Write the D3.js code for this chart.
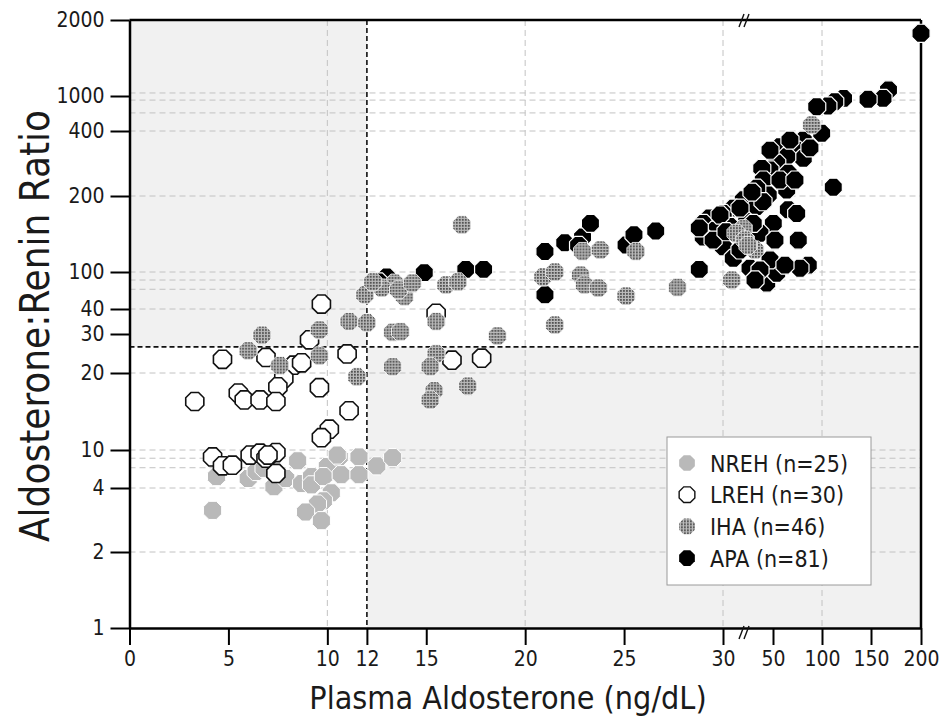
<html>

<head>
  <meta charset="utf8">
  <title>Aldosterone:Renin Ratio vs Plasma Aldosterone</title>
  <style>
    * {
      margin: 0;
      padding: 0;
    }
    body {
      background: #fff;
    }
    text {
      font-family: 'DejaVu Sans Condensed', 'DejaVu Sans', sans-serif;
      fill: #1a1a1a;
    }
  </style>
</head>

<body>
  <script src="https://cdn.jsdelivr.net/npm/d3@7"></script>
  <script>
    var w = 941
    var h = 722

    // axis stops / labels
    var xTicks = [0, 5, 10, 12, 15, 20, 25, 30, 50, 100, 150, 200]
    var xBreaks = [0, 30, 50, 100, 150, 200]
    var yTicks = [1, 2, 4, 10, 20, 30, 40, 100, 200, 400, 1000, 2000]
    var xGrid = [10, 20, 30, 100]
    var yGrid = [2, 4, 7.2, 8.7, 10, 20, 40, 72, 87, 100, 200, 400, 710, 930, 1040]
    var cutX = 12
    var cutY = 26.7

    // NREH
    var nrehX = [4.4, 4.2, 6.0, 6.4, 6.8, 7.3, 7.9, 8.5, 8.7, 9.2, 9.2, 10.0, 9.8, 10.6, 10.7, 11.6, 11.6, 12.5, 13.3, 10.2, 9.8, 9.5, 8.9, 9.7, 10.5]
    var nrehY = [5.8, 3.3, 5.5, 6.6, 7.1, 4.2, 5.5, 8.3, 4.7, 5.8, 4.5, 7.4, 5.8, 8.9, 6.1, 8.9, 6.1, 7.5, 8.8, 3.85, 3.6, 3.5, 3.25, 2.98, 9.2]

    // LREH
    var lrehX = [9.7, 15.5, 4.7, 6.9, 9.1, 11.0, 16.3, 17.8, 8.3, 8.7, 7.8, 7.5, 9.6, 5.5, 5.8, 6.6, 7.4, 3.3, 11.1, 10.1, 9.7, 4.2, 4.7, 5.2, 6.1, 6.6, 6.9, 7.4, 7.4, 7.0]
    var lrehY = [48, 38.3, 23.5, 24, 28.5, 24.9, 23.3, 23.8, 22.0, 22.6, 19.3, 18.2, 18.1, 17.4, 16.5, 16.5, 16.3, 16.3, 15.1, 12.7, 11.6, 8.9, 7.5, 7.6, 9.2, 9.5, 8.7, 9.6, 6.3, 9.2]

    // IHA
    var ihaX = [16.8, 13.4, 12.75, 13.9, 11.9, 16.0, 16.6, 11.1, 12.0, 13.3, 13.7, 15.5, 18.6, 9.6, 6.7, 6.0, 7.6, 9.6, 11.5, 13.3, 15.5, 15.2, 15.4, 15.2, 17.1, 20.9, 21.5, 22.8, 23.0, 23.7, 22.9, 23.8, 25.6, 25.1, 21.5, 27.7, 33.5, 38.1, 35.2, 42.8, 89.5, 13.6, 14.3, 12.3, 38.8, 40]
    var ihaY = [162, 82, 74, 60, 63, 79, 84, 35, 34.5, 30.7, 30.9, 35, 29.5, 31.6, 29.7, 25.7, 21.9, 24.4, 19.5, 21.6, 24.9, 21.6, 17.7, 16.5, 18.3, 92, 100, 95, 79, 74, 127, 129, 127, 61, 33.6, 75, 87, 157, 151, 129, 503, 71, 82, 84, 142, 135]

    // APA
    var apaX = [200, 167.5, 162, 147, 122, 113, 106, 94.6, 99.7, 111.5, 13.0, 14.9, 17.0, 17.9, 21.0, 22.0, 22.9, 23.3, 25.1, 25.5,
      26.6, 21.0, 28.8, 12.6, 22.7, 80.9, 74.2, 80.9, 57.1, 64, 53.8, 48.8, 45.5, 65.6, 46.1, 64, 48.1, 43.5, 38.1, 34.1,
      30.1, 29.3, 29.0, 29.6, 29.0, 30.1, 34.1, 40.8, 47.5, 53.8, 48.8, 50.3, 65.6, 74.2, 75.8, 86, 77.5, 39.5, 44.8, 32.8,
      39.5, 43.5, 46, 67.3, 87.7, 42.1, 38.8, 29.85, 29.5, 36.8, 44.8, 42.8, 57.1, 72.4, 48.8, 36.8, 31.2, 28.8, 52, 62.2, 41.6]
    var apaY = [1825, 1080, 960, 943, 960, 902, 829, 817, 393, 227, 92, 99, 103.5, 103.5, 127, 138.5, 146, 164, 135.5, 149,
      154, 63, 103.5, 84, 135, 372, 341, 316, 352, 321, 301, 280, 285, 270, 249, 218.5, 203, 224, 195, 184,
      177, 171, 164, 155, 146, 133, 118, 105, 82, 98, 116, 164, 182, 177, 142, 109, 105, 151, 151, 160,
      173, 186, 192.5, 372, 348, 164, 142, 175, 142, 129, 102.6, 87, 249, 249, 341, 184, 153, 158, 142, 109, 212]

    var legendLabels = ['NREH (n=25)', 'LREH (n=30)', 'IHA (n=46)', 'APA (n=81)']

    var xScale = d3.scaleLinear().domain(xBreaks).range([129.5, 723, 773, 822, 871, 921])
    var yScale = d3.scaleLinear().domain(yTicks).range([628, 552, 488, 450, 373, 334, 309, 272, 196, 131, 96, 20])

    var svg = d3.select('body').append('svg').attr('width', w).attr('height', h)

    // dotted fill for IHA
    var pat = svg.append('defs').append('pattern')
      .attr('id', 'dots')
      .attr('patternUnits', 'userSpaceOnUse')
      .attr('width', 3)
      .attr('height', 3)
    pat.append('rect').attr('width', 3).attr('height', 3).attr('fill', '#bcbcbc')
    pat.append('rect').attr('width', 1.8).attr('height', 1.8).attr('fill', '#4e4e4e')

    // shaded quadrants
    svg.append('rect')
      .attr('x', xScale(0))
      .attr('y', yScale(2000))
      .attr('width', xScale(cutX) - xScale(0))
      .attr('height', yScale(cutY) - yScale(2000))
      .attr('fill', '#f1f1f1')
    svg.append('rect')
      .attr('x', xScale(cutX))
      .attr('y', yScale(cutY))
      .attr('width', xScale(200) - xScale(cutX))
      .attr('height', yScale(1) - yScale(cutY))
      .attr('fill', '#f1f1f1')

    // grid
    svg.selectAll('.hgrid')
      .data(yGrid)
      .enter()
      .append('line')
      .attr('class', 'hgrid')
      .attr('x1', xScale(0))
      .attr('x2', xScale(200))
      .attr('y1', d => yScale(d))
      .attr('y2', d => yScale(d))
      .attr('stroke', '#c2c2c2')
      .attr('stroke-dasharray', '6,4')

    svg.selectAll('.vgrid')
      .data(xGrid)
      .enter()
      .append('line')
      .attr('class', 'vgrid')
      .attr('x1', d => xScale(d))
      .attr('x2', d => xScale(d))
      .attr('y1', yScale(2000))
      .attr('y2', yScale(1))
      .attr('stroke', '#c2c2c2')
      .attr('stroke-dasharray', '6,4')

    // cut-off lines
    svg.append('line')
      .attr('x1', xScale(cutX))
      .attr('x2', xScale(cutX))
      .attr('y1', yScale(2000))
      .attr('y2', yScale(1))
      .attr('stroke', '#111')
      .attr('stroke-width', 1.6)
      .attr('stroke-dasharray', '5,3')
    svg.append('line')
      .attr('x1', xScale(0))
      .attr('x2', xScale(200))
      .attr('y1', yScale(cutY))
      .attr('y2', yScale(cutY))
      .attr('stroke', '#111')
      .attr('stroke-width', 1.6)
      .attr('stroke-dasharray', '5,3')

    function octagon(r) {
      var pts = d3.range(8).map(i => {
        var a = Math.PI / 8 + i * Math.PI / 4
        return [r * Math.cos(a), r * Math.sin(a)]
      })
      return 'M' + pts.join('L') + 'Z'
    }

    var styles = [
      { fill: '#b9b9b9', stroke: '#fff', sw: 1 },
      { fill: '#fff', stroke: '#111', sw: 1.6 },
      { fill: 'url(#dots)', stroke: '#fff', sw: 0.8 },
      { fill: '#000', stroke: '#fff', sw: 1.2 }
    ]

    function drawGroup(xs, ys, st) {
      var pts = xs.map((x, i) => [x, ys[i]])
      svg.append('g')
        .selectAll('path')
        .data(pts)
        .enter()
        .append('path')
        .attr('d', octagon(9.8))
        .attr('transform', d => 'translate(' + xScale(d[0]) + ',' + yScale(d[1]) + ')')
        .attr('fill', st.fill)
        .attr('stroke', st.stroke)
        .attr('stroke-width', st.sw)
    }

    drawGroup(nrehX, nrehY, styles[0])
    drawGroup(lrehX, lrehY, styles[1])
    drawGroup(apaX, apaY, styles[3])
    drawGroup(ihaX, ihaY, styles[2])

    // axes
    var yAxis = d3.axisLeft(yScale)
      .tickValues(yTicks)
      .tickSize(19)
      .tickSizeOuter(0)
      .tickPadding(6)
      .tickFormat(d3.format('d'))
    var gy = svg.append('g').attr('transform', 'translate(' + xScale(0) + ',0)').call(yAxis)

    var xAxis = d3.axisBottom(xScale)
      .tickValues(xTicks)
      .tickSize(17)
      .tickSizeOuter(0)
      .tickPadding(6)
      .tickFormat(d3.format('d'))
    var gx = svg.append('g').attr('transform', 'translate(0,' + yScale(1) + ')').call(xAxis)

    ;[gx, gy].forEach(g => {
      g.select('.domain').attr('stroke', '#000').attr('stroke-width', 2.5)
      g.selectAll('.tick line').attr('stroke', '#000').attr('stroke-width', 2)
      g.selectAll('.tick text')
        .attr('font-size', '21px')
        .attr('font-family', "'DejaVu Sans Condensed', 'DejaVu Sans', sans-serif")
        .attr('fill', '#1a1a1a')
    })

    // frame top / right
    svg.append('line')
      .attr('x1', xScale(0))
      .attr('x2', xScale(200))
      .attr('y1', yScale(2000))
      .attr('y2', yScale(2000))
      .attr('stroke', '#000')
      .attr('stroke-width', 2.5)
    svg.append('line')
      .attr('x1', xScale(200))
      .attr('x2', xScale(200))
      .attr('y1', yScale(2000))
      .attr('y2', yScale(1))
      .attr('stroke', '#000')
      .attr('stroke-width', 2.5)

    // redraw the corner APA point over the frame
    svg.append('path')
      .attr('d', octagon(9.8))
      .attr('transform', 'translate(' + xScale(apaX[0]) + ',' + yScale(apaY[0]) + ')')
      .attr('fill', '#000')
      .attr('stroke', '#fff')
      .attr('stroke-width', 1.2)

    // axis break marks
    var bx = xScale(30) + 0.4 * (xScale(50) - xScale(30))
    ;[yScale(2000), yScale(1) + 4].forEach(by => {
      [0, 5].forEach(off => {
        svg.append('line')
          .attr('x1', bx - 4 + off)
          .attr('x2', bx + 1 + off)
          .attr('y1', by + 7)
          .attr('y2', by - 6)
          .attr('stroke', '#111')
          .attr('stroke-width', 1.4)
      })
    })

    // titles
    svg.append('text')
      .text('Plasma Aldosterone (ng/dL)')
      .attr('x', 508)
      .attr('y', 709)
      .attr('text-anchor', 'middle')
      .attr('font-size', '32px')

    svg.append('text')
      .text('Aldosterone:Renin Ratio')
      .attr('transform', 'translate(49,326) rotate(-90)')
      .attr('text-anchor', 'middle')
      .attr('font-size', '40px')

    // legend
    var lg = svg.append('g').attr('transform', 'translate(667,437)')
    lg.append('rect')
      .attr('width', 204)
      .attr('height', 148)
      .attr('fill', '#fff')
      .attr('stroke', '#9a9a9a')
    var items = lg.selectAll('.item')
      .data(legendLabels)
      .enter()
      .append('g')
      .attr('transform', (d, i) => 'translate(0,' + (26 + i * 31.7) + ')')
    items.append('path')
      .attr('d', octagon(8.5))
      .attr('transform', 'translate(20,0)')
      .attr('fill', (d, i) => styles[i].fill)
      .attr('stroke', (d, i) => i === 1 ? '#111' : 'none')
      .attr('stroke-width', 1.4)
    items.append('text')
      .text(d => d)
      .attr('x', 43)
      .attr('y', 8.5)
      .attr('font-size', '23px')
  </script>
</body>

</html>
